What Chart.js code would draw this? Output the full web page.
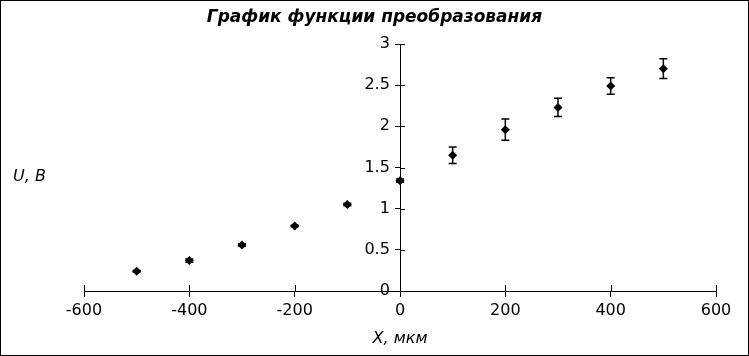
<!DOCTYPE html>
<html>
<head>
<meta charset="utf-8">
<script src="https://cdn.jsdelivr.net/npm/chart.js@4.4.1/dist/chart.umd.min.js"></script>
<style>
html,body{margin:0;padding:0;background:#fff;}
#wrap{position:relative;width:749px;height:356px;}
#frame{position:absolute;left:0;top:0;width:749px;height:356px;box-sizing:border-box;border:1px solid #000;pointer-events:none;}
canvas{display:block;}
</style>
</head>
<body>
<div id="wrap"><canvas id="c" width="749" height="356"></canvas><div id="frame"></div></div>
<script>
// Data
const xValues = [-500, -400, -300, -200, -100, 0, 100, 200, 300, 400, 500];
const uValues = [0.24, 0.37, 0.56, 0.79, 1.05, 1.34, 1.65, 1.96, 2.23, 2.49, 2.70];
const uErrors = [0.01, 0.02, 0.015, 0.01, 0.015, 0.02, 0.10, 0.13, 0.11, 0.10, 0.12];
const xTickValues = [-600, -400, -200, 0, 200, 400, 600];
const yTickValues = [0, 0.5, 1, 1.5, 2, 2.5, 3];
const titleText = 'График функции преобразования';
const xTitle = 'X, мкм';
const yTitle = 'U, В';

const FONT = "'DejaVu Sans', sans-serif";

const points = xValues.map((x, i) => ({x: x, y: uValues[i]}));

const errorBarPlugin = {
  id: 'errorBars',
  afterDatasetsDraw(chart) {
    const xs = chart.scales.x, ys = chart.scales.y;
    const ctx = chart.ctx;
    ctx.save();
    ctx.strokeStyle = '#000';
    ctx.lineWidth = 1.5;
    xValues.forEach((xv, i) => {
      const px = xs.getPixelForValue(xv);
      const top = ys.getPixelForValue(uValues[i] + uErrors[i]);
      const bot = ys.getPixelForValue(uValues[i] - uErrors[i]);
      ctx.beginPath();
      ctx.moveTo(px, top); ctx.lineTo(px, bot);
      ctx.moveTo(px - 4, top); ctx.lineTo(px + 4, top);
      ctx.moveTo(px - 4, bot); ctx.lineTo(px + 4, bot);
      ctx.stroke();
    });
    ctx.restore();
  }
};

const crossTicksPlugin = {
  id: 'crossTicks',
  afterDraw(chart) {
    const xs = chart.scales.x, ys = chart.scales.y;
    const ctx = chart.ctx;
    const axisY = ys.getPixelForValue(0);
    const axisX = xs.getPixelForValue(0);
    ctx.save();
    ctx.strokeStyle = '#000';
    ctx.lineWidth = 1;
    ctx.beginPath();
    xTickValues.forEach(v => {
      const px = Math.round(xs.getPixelForValue(v)) + 0.5;
      ctx.moveTo(px, axisY); ctx.lineTo(px, axisY - 6);
    });
    yTickValues.forEach(v => {
      const py = Math.round(ys.getPixelForValue(v)) + 0.5;
      ctx.moveTo(axisX, py); ctx.lineTo(axisX + 5, py);
    });
    ctx.stroke();
    // vertical axis label (horizontal text at the left)
    ctx.fillStyle = '#000';
    ctx.font = "italic 16px " + FONT;
    ctx.textAlign = 'left';
    ctx.textBaseline = 'middle';
    ctx.fillText(yTitle, 13, 177);
    ctx.restore();
  }
};

new Chart(document.getElementById('c'), {
  type: 'scatter',
  data: {
    datasets: [{
      data: points,
      pointStyle: 'rectRot',
      pointRadius: 4.5,
      pointHoverRadius: 4.5,
      backgroundColor: '#000',
      borderColor: '#000',
      borderWidth: 0
    }]
  },
  options: {
    responsive: false,
    animation: false,
    events: [],
    layout: { padding: 0 },
    plugins: {
      legend: { display: false },
      tooltip: { enabled: false },
      title: {
        display: true,
        text: titleText,
        color: '#000',
        font: { family: FONT, size: 17, weight: 'bold', style: 'italic', lineHeight: 1.2 },
        padding: { top: 7, bottom: 16.6 }
      }
    },
    scales: {
      x: {
        type: 'linear',
        position: 'bottom',
        min: -600, max: 600,
        afterBuildTicks(axis) { axis.ticks = xTickValues.map(v => ({value: v})); },
        afterFit(axis) { axis.height = 65; axis.paddingLeft = 84; axis.paddingRight = 33; },
        grid: { display: true, drawOnChartArea: false, drawTicks: true, tickLength: 6, color: '#000', lineWidth: 1 },
        border: { display: true, color: '#000', width: 1 },
        ticks: { color: '#000', font: { family: FONT, size: 16 }, padding: 4, maxRotation: 0, autoSkip: false },
        title: { display: true, text: xTitle, color: '#000', font: { family: FONT, size: 16, style: 'italic' }, padding: { top: 0, bottom: 8 } }
      },
      y: {
        type: 'linear',
        position: { x: 0 },
        min: 0, max: 3,
        afterBuildTicks(axis) { axis.ticks = yTickValues.map(v => ({value: v})); },
        afterFit(axis) { axis.width = 0; },
        grid: { display: true, drawOnChartArea: false, drawTicks: true, tickLength: 5, color: '#000', lineWidth: 1 },
        border: { display: true, color: '#000', width: 1 },
        ticks: { color: '#000', font: { family: FONT, size: 16 }, padding: 5,
                 callback: (v) => String(v) + '  ' }
      }
    }
  },
  plugins: [errorBarPlugin, crossTicksPlugin]
});
</script>
</body>
</html>
